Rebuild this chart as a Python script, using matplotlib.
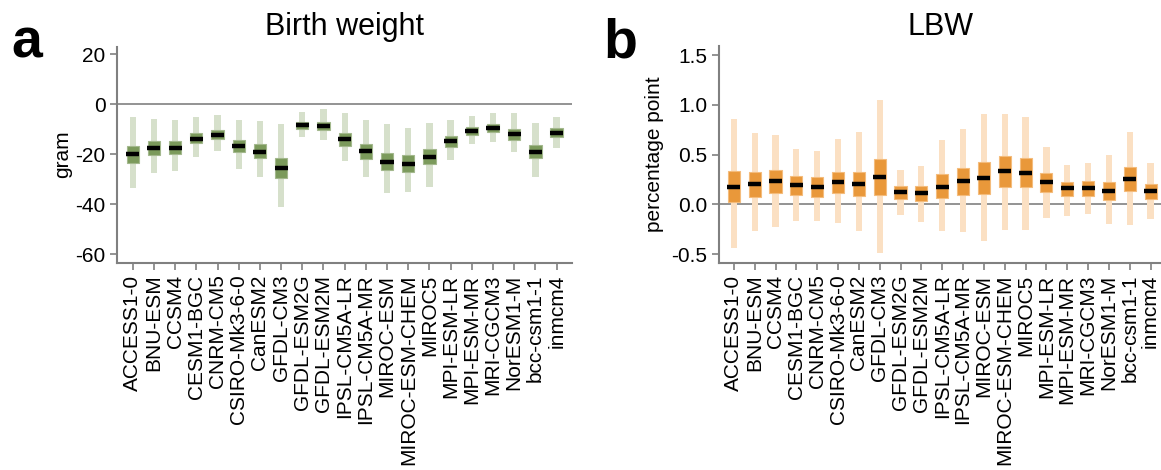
import numpy as np
import matplotlib
matplotlib.use("Agg")
import matplotlib.pyplot as plt

plt.rcParams["font.family"] = ["Liberation Sans", "DejaVu Sans"]
plt.rcParams["axes.unicode_minus"] = False

# ── data ─────────────────────────────────────────────
models = ["ACCESS1-0", "BNU-ESM", "CCSM4", "CESM1-BGC", "CNRM-CM5",
          "CSIRO-Mk3-6-0", "CanESM2", "GFDL-CM3", "GFDL-ESM2G", "GFDL-ESM2M",
          "IPSL-CM5A-LR", "IPSL-CM5A-MR", "MIROC-ESM", "MIROC-ESM-CHEM",
          "MIROC5", "MPI-ESM-LR", "MPI-ESM-MR", "MRI-CGCM3", "NorESM1-M",
          "bcc-csm1-1", "inmcm4"]

# birth weight (gram)
bw_med = [-20.0, -17.7, -17.5, -13.9, -12.3, -16.9, -19.1, -25.7, -8.5, -8.8,
          -14.1, -18.9, -23.1, -23.9, -21.2, -14.9, -10.8, -9.5, -12.1, -19.1, -11.5]
bw_q1 = [-23.6, -20.4, -20.0, -15.7, -14.1, -19.3, -21.7, -29.7, -10.1, -10.4,
         -16.9, -22.0, -26.4, -27.2, -24.1, -17.1, -12.5, -11.1, -14.3, -21.7, -13.2]
bw_q3 = [-16.7, -14.7, -14.9, -11.7, -10.3, -14.5, -16.1, -21.6, -7.2, -7.1,
         -11.6, -15.9, -19.5, -20.3, -17.9, -12.9, -9.3, -8.0, -10.0, -16.3, -9.7]
bw_lo = [-33.7, -27.6, -26.8, -21.2, -18.9, -26.0, -29.3, -41.3, -13.1, -14.5,
         -22.9, -29.3, -35.7, -35.3, -33.3, -22.3, -16.0, -15.2, -19.1, -29.2, -17.6]
bw_hi = [-5.2, -6.0, -6.3, -5.2, -4.4, -6.3, -6.7, -8.0, -3.1, -2.1,
         -3.7, -6.3, -7.9, -9.5, -7.5, -6.3, -4.9, -3.5, -3.5, -7.5, -5.2]

# low birth weight (percentage point)
lbw_med = [0.177, 0.204, 0.234, 0.191, 0.174, 0.228, 0.208, 0.271, 0.121, 0.110,
           0.177, 0.231, 0.264, 0.335, 0.318, 0.221, 0.161, 0.167, 0.137, 0.258, 0.131]
lbw_q1 = [0.020, 0.074, 0.117, 0.094, 0.077, 0.110, 0.080, 0.090, 0.057, 0.033,
          0.060, 0.094, 0.104, 0.171, 0.171, 0.121, 0.084, 0.087, 0.047, 0.134, 0.054]
lbw_q3 = [0.338, 0.321, 0.345, 0.288, 0.271, 0.328, 0.328, 0.452, 0.181, 0.187,
          0.301, 0.362, 0.422, 0.489, 0.465, 0.315, 0.224, 0.231, 0.224, 0.375, 0.201]
lbw_lo = [-0.435, -0.268, -0.231, -0.167, -0.167, -0.184, -0.268, -0.485, -0.107, -0.177,
          -0.268, -0.278, -0.368, -0.261, -0.254, -0.137, -0.114, -0.100, -0.194, -0.204, -0.144]
lbw_hi = [0.857, 0.713, 0.696, 0.559, 0.532, 0.653, 0.730, 1.048, 0.348, 0.385,
          0.650, 0.753, 0.907, 0.907, 0.877, 0.579, 0.398, 0.415, 0.495, 0.730, 0.412]

GREEN_BOX, GREEN_WHISK = "#7b9a5b", "#d6e0cb"
ORANGE_BOX, ORANGE_WHISK = "#e9983a", "#fbe0c3"
GRAY = "#808080"

BOX_W, WHISK_W = 0.58, 0.30
x = np.arange(len(models))


def draw_panel(ax, med, q1, q3, lo, hi, box_c, whisk_c, edge_c):
    med, q1, q3, lo, hi = map(np.asarray, (med, q1, q3, lo, hi))
    ax.axhline(0, color=GRAY, linewidth=1.2, zorder=1)
    ax.bar(x, hi - lo, bottom=lo, width=WHISK_W, color=whisk_c, zorder=2)
    ax.bar(x, q3 - q1, bottom=q1, width=BOX_W, color=box_c,
           edgecolor=edge_c, linewidth=0.8, zorder=3)
    # median bar spans the full box
    half = BOX_W / 2 + 0.02
    ax.hlines(med, x - half, x + half, color="black",
              linewidth=3.2, zorder=4)
    ax.set_xticks(x)
    ax.set_xticklabels(models, rotation=90, fontsize=15)
    for s in ("top", "right"):
        ax.spines[s].set_visible(False)
    for s in ("left", "bottom"):
        ax.spines[s].set_color(GRAY)
        ax.spines[s].set_linewidth(1.5)
    ax.tick_params(axis="both", colors=GRAY, labelcolor="black",
                   labelsize=15, length=5, width=1.2)


fig = plt.figure(figsize=(11.61, 4.70), dpi=100)

ax1 = fig.add_axes([0.101, 0.441, 0.3914, 0.460])
draw_panel(ax1, bw_med, bw_q1, bw_q3, bw_lo, bw_hi,
           GREEN_BOX, GREEN_WHISK, "#a3b88d")
ax1.set_xlim(-0.73, 20.71)
ax1.set_ylim(-63.4, 23)
ax1.set_yticks([20, 0, -20, -40, -60])
ax1.set_ylabel("gram", fontsize=15, labelpad=2)
ax1.set_title("Birth weight", fontsize=22, pad=8)

ax2 = fig.add_axes([0.6195, 0.441, 0.3805, 0.461])
draw_panel(ax2, lbw_med, lbw_q1, lbw_q3, lbw_lo, lbw_hi,
           ORANGE_BOX, ORANGE_WHISK, "#f4bc7c")
ax2.set_xlim(-0.7, 20.5)
ax2.set_ylim(-0.586, 1.59)
ax2.set_yticks([1.5, 1.0, 0.5, 0.0, -0.5])
ax2.set_yticklabels(["1.5", "1.0", "0.5", "0.0", "-0.5"])
ax2.set_ylabel("percentage point", fontsize=15, labelpad=5)
ax2.set_title("LBW", fontsize=22, pad=8)

fig.text(0.010, 0.877, "a", fontsize=40, fontweight="bold")
fig.text(0.520, 0.877, "b", fontsize=40, fontweight="bold")

fig.savefig("out.png", dpi=100)
